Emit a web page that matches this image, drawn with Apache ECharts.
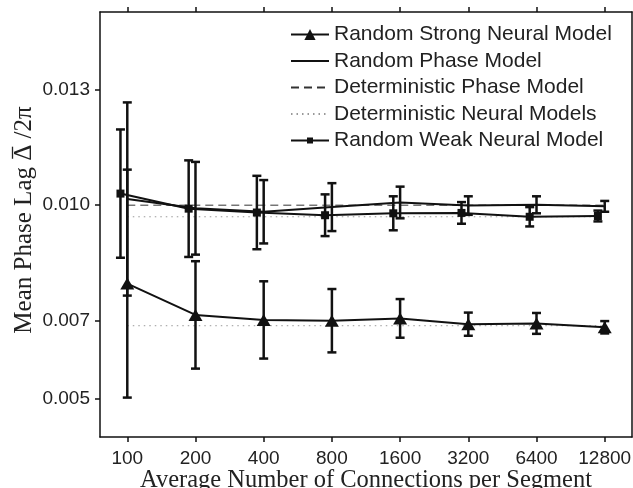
<!DOCTYPE html>
<html>
<head>
<meta charset="utf-8">
<script src="https://cdn.jsdelivr.net/npm/echarts@6.0.0/dist/echarts.min.js"></script>
<style>
  html, body { margin: 0; padding: 0; background: #fff; }
  #main { width: 633px; height: 488px; }
</style>
</head>
<body>
<div id="main"></div>
<script>
var connections = ['100', '200', '400', '800', '1600', '3200', '6400', '12800'];

var strongMean = [0.00797, 0.00716, 0.00703, 0.00701, 0.00707, 0.00692, 0.00694, 0.00684];
var strongErr  = [0.00295, 0.00139, 0.00100, 0.00082, 0.00050, 0.00030, 0.00027, 0.00016];

var phaseMean = [0.01016, 0.00992, 0.00983, 0.00995, 0.01007, 0.00999, 0.01001, 0.00997];
var phaseErr  = [0.00250, 0.00120, 0.00082, 0.00062, 0.00041, 0.00024, 0.00022, 0.00014];

var weakMean = [0.01030, 0.00991, 0.00981, 0.00974, 0.00979, 0.00980, 0.00970, 0.00972];
var weakErr  = [0.00166, 0.00125, 0.00095, 0.00054, 0.00044, 0.00028, 0.00025, 0.00014];

var detPhase      = [0.0100, 0.0100, 0.0100, 0.0100, 0.0100, 0.0100, 0.0100, 0.0100];
var detNeuralHigh = [0.0097, 0.0097, 0.0097, 0.0097, 0.0097, 0.0097, 0.0097, 0.0097];
var detNeuralLow  = [0.00688, 0.00688, 0.00688, 0.00688, 0.00688, 0.00688, 0.00688, 0.00688];

var yTicks = [0.005, 0.007, 0.010, 0.013];

// weak-model markers sit a little left of each tick
var WEAK_SHIFT = -0.1;

var noSymbol = { color: 'rgba(0,0,0,0)', borderWidth: 0 };
var legendData = [
    { name: 'Random Strong Neural Model' },
    { name: 'Random Phase Model', itemStyle: noSymbol },
    { name: 'Deterministic Phase Model', itemStyle: noSymbol },
    { name: 'Deterministic Neural Models', itemStyle: noSymbol },
    // line with a small square in the middle
    { name: 'Random Weak Neural Model', icon: 'path://M0,2.1H38V3.9H0Z M16,0H22V6H16Z' }
];

var chart = echarts.init(document.getElementById('main'));

function pts(vals, shift) {
    return vals.map(function (v, i) { return [i + (shift || 0), v]; });
}
function errPts(vals, errs, shift) {
    return vals.map(function (v, i) { return [i + (shift || 0), v, errs[i]]; });
}

function renderErr(params, api) {
    var x = api.value(0), y = api.value(1), e = api.value(2);
    var top = api.coord([x, y + e]);
    var bot = api.coord([x, y - e]);
    var hw = 4.5;
    var st = { stroke: '#111', lineWidth: 2.5 };
    return {
        type: 'group',
        children: [
            { type: 'line', shape: { x1: top[0], y1: top[1], x2: bot[0], y2: bot[1] }, style: st },
            { type: 'line', shape: { x1: top[0] - hw, y1: top[1], x2: top[0] + hw, y2: top[1] }, style: st },
            { type: 'line', shape: { x1: bot[0] - hw, y1: bot[1], x2: bot[0] + hw, y2: bot[1] }, style: st }
        ]
    };
}

// y title drawn by hand so the bar can sit over the Delta
var yTitleFont = '25px "Liberation Serif"';
var ctx = document.createElement('canvas').getContext('2d');
ctx.font = yTitleFont;
var yTitle = 'Mean Phase Lag \u0394 /2\u03c0';
var wHead = ctx.measureText('Mean Phase Lag ').width;
var wDelta = ctx.measureText('\u0394').width;
var wAll = ctx.measureText(yTitle).width;

var axisLine = { show: true, onZero: false, lineStyle: { color: '#111', width: 1.5 } };
var tickIdx = connections.map(function (c, i) { return i; });

var option = {
    animation: false,
    grid: { left: 100, top: 12, right: 1, bottom: 51, containLabel: false, outerBoundsMode: 'none' },
    graphic: [{
        type: 'group',
        x: 24,
        y: 220,
        rotation: Math.PI / 2,
        children: [{
            type: 'text',
            x: -wAll / 2,
            y: 0,
            style: { text: yTitle, font: yTitleFont, fill: '#222', verticalAlign: 'middle', align: 'left' }
        }, {
            type: 'line',
            shape: { x1: -wAll / 2 + wHead + 2, y1: -11.5, x2: -wAll / 2 + wHead + wDelta - 2, y2: -11.5 },
            style: { stroke: '#222', lineWidth: 1.3 }
        }]
    }],
    legend: {
        data: legendData,
        orient: 'vertical',
        left: 290,
        top: 24,
        padding: 0,
        itemWidth: 38,
        itemHeight: 14,
        itemGap: 5.5,
        textStyle: { fontFamily: 'Liberation Sans', fontSize: 21, color: '#222', lineHeight: 21 }
    },
    xAxis: [{
        type: 'value',
        min: -0.4,
        max: 7.4,
        position: 'bottom',
        axisLine: axisLine,
        splitLine: { show: false },
        axisTick: { show: true, inside: false, length: 5, customValues: tickIdx, lineStyle: { color: '#111', width: 1.5 } },
        axisLabel: {
            customValues: tickIdx,
            margin: 12,
            fontFamily: 'Liberation Sans',
            fontSize: 19,
            color: '#222',
            formatter: function (v) { return connections[Math.round(v)]; }
        },
        name: 'Average Number of Connections per Segment',
        nameLocation: 'middle',
        nameGap: 31,
        nameMoveOverlap: false,
        nameTextStyle: { fontFamily: 'Liberation Serif', fontSize: 24.5, color: '#222' }
    }, {
        type: 'value',
        min: -0.4,
        max: 7.4,
        position: 'top',
        axisLine: axisLine,
        splitLine: { show: false },
        axisTick: { show: true, inside: false, length: 5, customValues: tickIdx, lineStyle: { color: '#111', width: 1.5 } },
        axisLabel: { show: false }
    }],
    yAxis: [{
        type: 'value',
        min: 0.004,
        max: 0.015,
        position: 'left',
        axisLine: axisLine,
        splitLine: { show: false },
        axisTick: { show: true, inside: false, length: 5, customValues: yTicks, lineStyle: { color: '#111', width: 1.5 } },
        axisLabel: {
            customValues: yTicks,
            margin: 10,
            fontFamily: 'Liberation Sans',
            fontSize: 19,
            color: '#222',
            formatter: function (v) { return v.toFixed(3); }
        }
    }, {
        type: 'value',
        min: 0.004,
        max: 0.015,
        position: 'right',
        axisLine: axisLine,
        splitLine: { show: false },
        axisTick: { show: false },
        axisLabel: { show: false }
    }],
    series: [
        {
            name: 'Deterministic Neural Models',
            type: 'line',
            data: pts(detNeuralHigh),
            symbol: 'none',
            lineStyle: { color: '#999', width: 1, type: [1.5, 4] },
            itemStyle: { color: '#999' },
            z: 1
        },
        {
            name: 'Deterministic Neural Models',
            type: 'line',
            data: pts(detNeuralLow),
            symbol: 'none',
            lineStyle: { color: '#999', width: 1, type: [1.5, 4] },
            itemStyle: { color: '#999' },
            z: 1
        },
        {
            name: 'Deterministic Phase Model',
            type: 'line',
            data: pts(detPhase),
            symbol: 'none',
            lineStyle: { color: '#333', width: 1, type: [8, 5] },
            itemStyle: { color: '#333' },
            z: 1
        },
        {
            name: 'Random Phase Model',
            type: 'line',
            data: pts(phaseMean),
            symbol: 'none',
            lineStyle: { color: '#111', width: 2 },
            itemStyle: { color: '#111' },
            z: 3
        },
        {
            name: 'Random Weak Neural Model',
            type: 'line',
            data: pts(weakMean, WEAK_SHIFT),
            symbol: 'rect',
            symbolSize: 8,
            lineStyle: { color: '#111', width: 2 },
            itemStyle: { color: '#111' },
            z: 3
        },
        {
            name: 'Random Strong Neural Model',
            type: 'line',
            data: pts(strongMean),
            symbol: 'triangle',
            symbolSize: [14, 12],
            lineStyle: { color: '#111', width: 2 },
            itemStyle: { color: '#111' },
            z: 3
        },
        { name: 'err-phase', type: 'custom', renderItem: renderErr, data: errPts(phaseMean, phaseErr), z: 2 },
        { name: 'err-weak', type: 'custom', renderItem: renderErr, data: errPts(weakMean, weakErr, WEAK_SHIFT), z: 2 },
        { name: 'err-strong', type: 'custom', renderItem: renderErr, data: errPts(strongMean, strongErr), z: 2 }
    ]
};

chart.setOption(option);
</script>
</body>
</html>
